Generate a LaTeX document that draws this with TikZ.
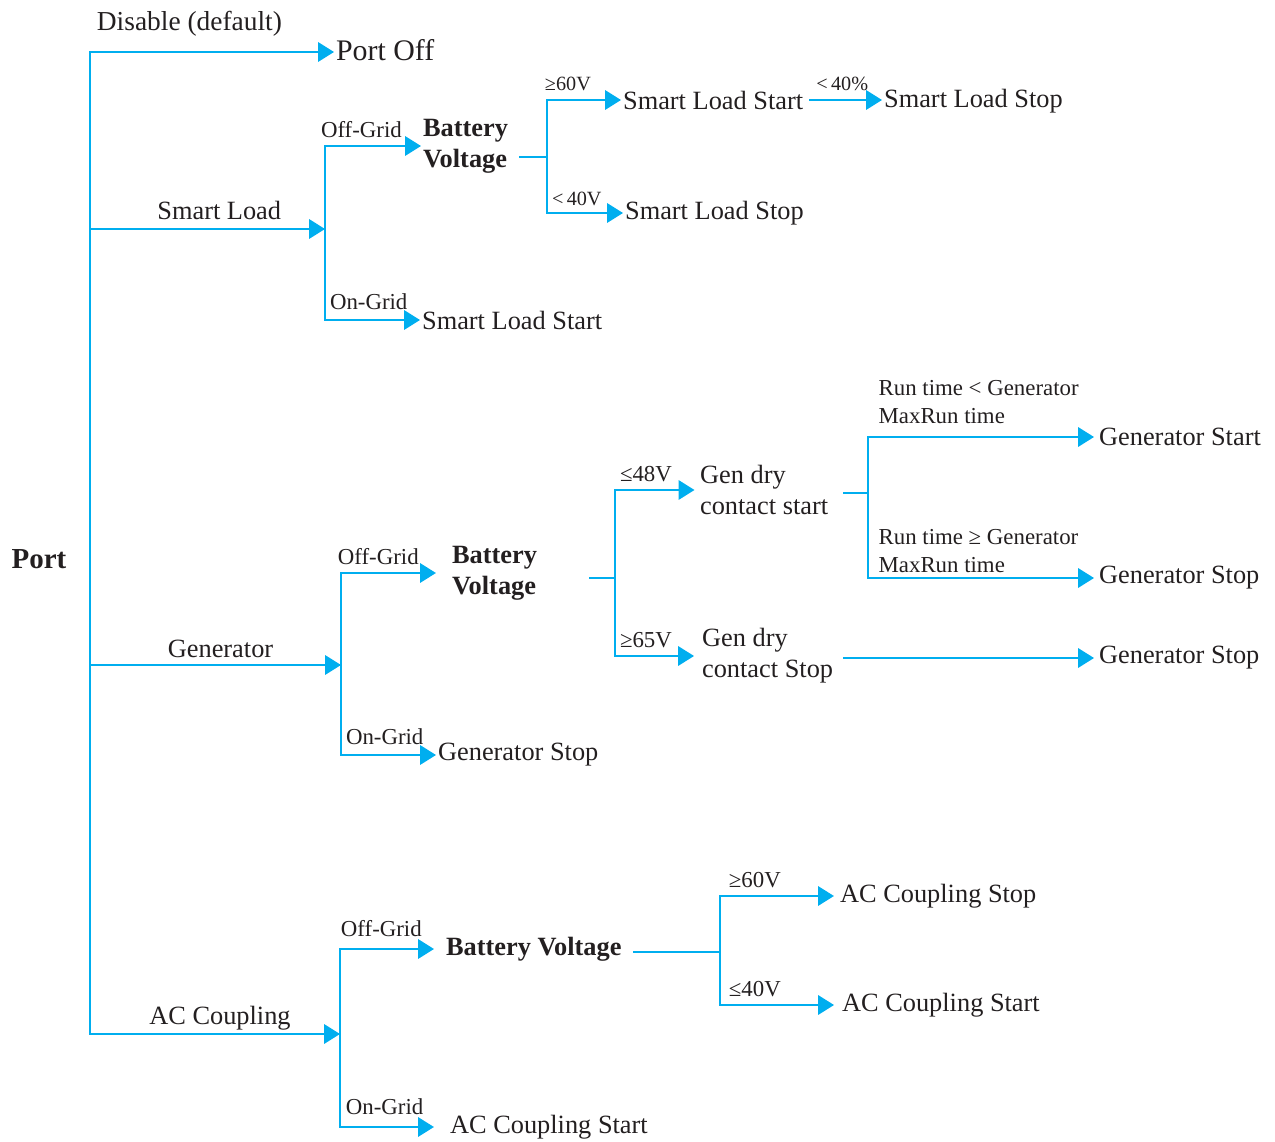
\documentclass[tikz,border=0pt]{standalone}
\usepackage{fontspec}
\setmainfont{Liberation Serif}
\usepackage{tikz}
\usetikzlibrary{arrows.meta}

\definecolor{flow}{RGB}{0,174,239}
\definecolor{ink}{RGB}{35,31,32}

\begin{document}
\begin{tikzpicture}[x=0.02cm,y=-0.02cm]
\tikzstyle{link}=[draw=flow,line width=1.1pt,line cap=rect]
\tikzstyle{arr}=[link,-{Triangle[length=9pt,width=11pt]}]
\tikzstyle{txt}=[anchor=west,inner sep=1pt,text=ink,font=\fontsize{15}{17.5}\selectfont]
\tikzstyle{head}=[txt,font=\fontsize{15}{17.5}\selectfont\bfseries]
\tikzstyle{trunk}=[anchor=base,inner sep=0pt,text=ink,font=\fontsize{15}{17.5}\selectfont,yshift=5.5pt]
\tikzstyle{cond}=[anchor=base west,inner sep=0pt,text=ink,font=\fontsize{13}{16}\selectfont,pos=0,yshift=4.8pt]
\tikzstyle{tiny}=[cond,font=\fontsize{11.5}{14}\selectfont]
\tikzstyle{runlbl}=[cond,anchor=south west,align=left,xshift=5.5pt]
\useasboundingbox (0,0) rectangle (1275,1142);

% texts
\node[txt,anchor=center,font=\fontsize{16.5}{20}\selectfont\bfseries] (port) at (39,559) {Port};
\node[txt,font=\fontsize{17}{20}\selectfont] (portoff) at (334,50) {Port Off};
% smart load
\node[head,align=left] (bvA) at (421,146) {Battery\\Voltage};
\node[txt] (slOn) at (420,320) {Smart Load Start};
\node[txt] (slStart) at (621,100) {Smart Load Start};
\node[txt] (slStopA) at (882,101) {Smart Load Stop};
\node[txt] (slStopB) at (623,213) {Smart Load Stop};
% generator
\node[head,align=left] (bvB) at (450,573) {Battery\\Voltage};
\node[txt] (genOn) at (436,755) {Generator Stop};
\node[txt,align=left] (dryA) at (698,490) {Gen dry\\contact start};
\node[txt,align=left] (dryB) at (700,656) {Gen dry\\contact Stop};
\node[txt] (genStart) at (1097,437) {Generator Start};
\node[txt] (genStopA) at (1097,578) {Generator Stop};
\node[txt] (genStopB) at (1097,658) {Generator Stop};
% ac coupling
\node[head] (bvC) at (444,949) {Battery Voltage};
\node[txt] (acOn) at (448,1127) {AC Coupling Start};
\node[txt] (acStop) at (838,896) {AC Coupling Stop};
\node[txt] (acStart) at (840,1005) {AC Coupling Start};

% branch points
\coordinate (top) at (90,52);
\coordinate (bot) at (90,1034);
\coordinate (slJ) at (325,229);
\coordinate (genJ) at (341,665);
\coordinate (acJ) at (340,1034);
\coordinate (bvAJ) at (547,157);
\coordinate (bvBJ) at (615,578);
\coordinate (dryJ) at (868,493);
\coordinate (bvCJ) at (720,952);

% trunk
\draw[link] (top) -- (bot);
\draw[arr] (top) -- node[trunk,anchor=base west,pos=0,xshift=3.4pt,yshift=7pt,font=\fontsize{15.6}{18}\selectfont]{Disable (default)} (top -| portoff.west);
\draw[arr] (top |- slJ) -- node[trunk,pos=.55]{Smart Load} (slJ);
\draw[arr] (top |- genJ) -- node[trunk,pos=.52,yshift=-1.5pt]{Generator} (genJ);
\draw[arr] (bot) -- node[trunk,pos=.52]{AC Coupling} (acJ);

% smart load
\draw[link] (slJ |- bvA) -- (slJ |- slOn);
\draw[arr] (slJ |- bvA) -- node[cond,xshift=-2.8pt]{Off-Grid} (bvA.west);
\draw[arr] (slJ |- slOn) -- node[cond,xshift=2.3pt,yshift=1.4pt]{On-Grid} (slOn.west);
\draw[link] ([xshift=5.7pt]bvA.east |- bvAJ) -- (bvAJ);
\draw[link] (bvAJ |- slStart) -- (bvAJ |- slStopB);
\draw[arr] (bvAJ |- slStart) -- node[tiny,xshift=-1.7pt,yshift=0.6pt]{≥60V} (slStart.west);
\draw[arr] (bvAJ |- slStopB) -- node[tiny,xshift=2.3pt,yshift=-0.5pt]{<\,40V} (slStopB.west);
\draw[arr] ([xshift=2.5pt]slStart.east) -- node[tiny,anchor=base,pos=.45,yshift=0.6pt]{<\,40\%} (slStopA.west |- slStart);

% generator
\draw[link] (genJ |- bvB) -- (genJ |- genOn);
\draw[arr,shorten >=8pt] (genJ |- bvB) -- node[cond,xshift=-2.3pt]{Off-Grid} (bvB.west);
\draw[arr] (genJ |- genOn) -- node[cond,xshift=2.3pt,yshift=1.4pt]{On-Grid} (genOn.west);
\draw[link] ([xshift=29pt]bvB.east |- bvBJ) -- (bvBJ);
\draw[link] (bvBJ |- dryA) -- (bvBJ |- dryB);
\draw[arr,shorten >=2pt] (bvBJ |- dryA) -- node[cond,xshift=2.3pt]{≤48V} (dryA.west);
\draw[arr,shorten >=3.4pt] (bvBJ |- dryB) -- node[cond,xshift=2.3pt]{≥65V} (dryB.west);
\draw[link] ([xshift=8pt]dryA.east |- dryJ) -- (dryJ);
\draw[link] (dryJ |- genStart) -- (dryJ |- genStopA);
\draw[arr,shorten >=1.7pt] (dryJ |- genStart) -- node[runlbl,yshift=2.2pt]{Run time < Generator\\MaxRun time} (genStart.west);
\draw[arr,shorten >=1.7pt] (dryJ |- genStopA) -- node[runlbl,yshift=-2.3pt]{Run time ≥ Generator\\MaxRun time} (genStopA.west);
\draw[arr,shorten >=1.7pt] ([xshift=4.8pt]dryB.east |- genStopB) -- (genStopB.west);

% ac coupling
\draw[link] (acJ |- bvC) -- (acJ |- acOn);
\draw[arr,shorten >=5.7pt] (acJ |- bvC) -- node[cond,yshift=2.2pt]{Off-Grid} (bvC.west);
\draw[arr,shorten >=8pt] (acJ |- acOn) -- node[cond,xshift=2.8pt,yshift=2.2pt]{On-Grid} (acOn.west);
\draw[link] ([xshift=6pt]bvC.east |- bvCJ) -- (bvCJ);
\draw[link] (bvCJ |- acStop) -- (bvCJ |- acStart);
\draw[arr,shorten >=2.3pt] (bvCJ |- acStop) -- node[cond,xshift=4.5pt]{≥60V} (acStop.west);
\draw[arr,shorten >=3.4pt] (bvCJ |- acStart) -- node[cond,xshift=4.5pt]{≤40V} (acStart.west);
\end{tikzpicture}
\end{document}
